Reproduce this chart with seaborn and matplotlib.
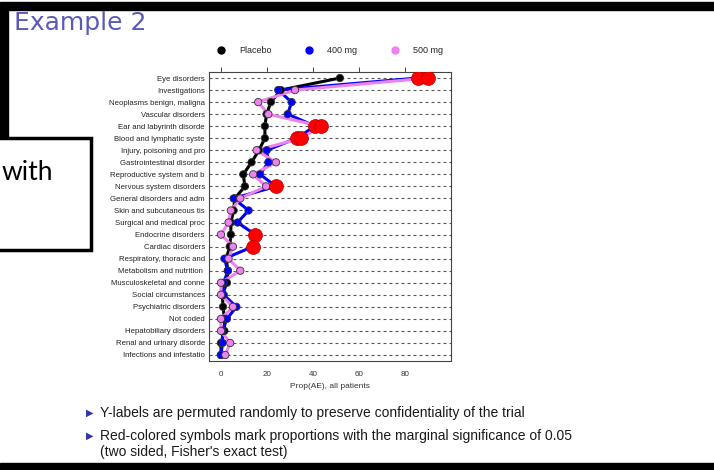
"""Adverse-event proportions by system organ class (slide recreation)."""

import matplotlib
matplotlib.use("Agg")
import matplotlib.pyplot as plt
import matplotlib.patches as mpatches
from matplotlib.lines import Line2D
import numpy as np
import pandas as pd
import seaborn as sns

categories = [
    "Eye disorders", "Investigations", "Neoplasms benign, maligna",
    "Vascular disorders", "Ear and labyrinth disorde", "Blood and lymphatic syste",
    "Injury, poisoning and pro", "Gastrointestinal disorder", "Reproductive system and b",
    "Nervous system disorders", "General disorders and adm", "Skin and subcutaneous tis",
    "Surgical and medical proc", "Endocrine disorders", "Cardiac disorders",
    "Respiratory, thoracic and", "Metabolism and nutrition ", "Musculoskeletal and conne",
    "Social circumstances", "Psychiatric disorders", "Not coded",
    "Hepatobiliary disorders", "Renal and urinary disorde", "Infections and infestatio",
]
placebo = [51.7, 26.0, 21.7, 19.8, 19.1, 19.1, 16.5, 13.3, 9.7, 10.4, 6.0, 5.5,
           4.3, 4.3, 3.8, 2.3, 3.0, 2.6, 0.6, 0.9, 1.5, 1.5, 0.0, 0.0]
dose_400 = [85.5, 24.9, 30.7, 29.0, 40.9, 32.9, 19.9, 20.6, 17.0, 23.9, 5.5, 12.0,
            7.2, 14.9, 13.9, 1.5, 3.0, 1.2, 1.2, 6.7, 2.6, 0.6, 0.7, 0.0]
dose_500 = [90.0, 32.2, 16.2, 20.6, 43.3, 35.0, 15.5, 23.9, 14.0, 19.6, 8.4, 4.3,
            3.3, 0.0, 5.2, 3.3, 8.4, 0.0, 0.0, 5.2, 0.0, 0.0, 4.0, 1.9]
# rows where the drug arm differs from placebo at p < 0.05
sig_400 = [0, 4, 5, 9, 13, 14]
sig_500 = [0, 4, 5]

groups = ["Placebo", "400 mg", "500 mg"]
palette = {"Placebo": "black", "400 mg": "#0000FF", "500 mg": "#EE82EE"}
x_ticks = [0, 20, 40, 60, 80]

W, H = 714, 470


def fx(px):
    return px / W


def fy(py):
    return 1 - py / H


rows = np.arange(len(categories))
frames = []
for name, vals, sig in ((groups[0], placebo, []), (groups[1], dose_400, sig_400),
                        (groups[2], dose_500, sig_500)):
    frames.append(pd.DataFrame({
        "category": categories, "row": rows, "group": name, "prop": vals,
        "sig": [r in sig for r in rows],
    }))
df = pd.concat(frames, ignore_index=True)

sns.set_theme(style="white")
plt.rcParams["font.family"] = ["Liberation Sans", "DejaVu Sans"]

fig = plt.figure(figsize=(W / 100, H / 100), dpi=100)
ax = fig.add_axes([fx(209), fy(361), fx(451) - fx(209), fy(72) - fy(361)])

# dashed row guides
for r in rows:
    ax.axhline(r, color="#555555", lw=0.8, ls=(0, (2.7, 2.7)), zorder=0)

sns.lineplot(data=df, x="prop", y="row", hue="group", palette=palette,
             sort=False, orient="y", estimator=None, lw=2.2, legend=False, ax=ax,
             zorder=2)
sns.scatterplot(data=df[~df["sig"]], x="prop", y="row", hue="group", palette=palette,
                s=28, edgecolor="#333333", linewidth=0.6, legend=False, ax=ax, zorder=3)
sns.scatterplot(data=df[df["sig"]], x="prop", y="row", color="#FF0000", s=100,
                edgecolor="#B00000", linewidth=0.5, legend=False, ax=ax, zorder=4)

ax.set_xlim(-5.2, 100)
ax.set_ylim(len(categories) - 0.5, -0.5)
ax.set_yticks(rows)
ax.set_yticklabels(categories, fontsize=5.6, color="#222222")
ax.tick_params(axis="y", length=0, pad=3)
ax.set_xticks(x_ticks)
ax.tick_params(axis="x", length=3.5, width=0.7, color="#444444", labelsize=5.8,
               labelcolor="#333333", pad=4, top=True, labeltop=False)
ax.set_xlabel("Prop(AE), all patients", fontsize=6, color="#333333", labelpad=3)
ax.set_ylabel("")
for sp in ax.spines.values():
    sp.set_color("#444444")
    sp.set_linewidth(0.8)

handles = [Line2D([], [], ls="none", marker="o", ms=5, color=palette[g],
                  markeredgecolor=palette[g]) for g in groups]
ax.legend(handles, groups, loc="lower center", bbox_to_anchor=(0.49, 1.045), ncol=3,
          frameon=False, fontsize=6.5, handletextpad=1.0, columnspacing=3.2,
          borderaxespad=0)

# slide decorations
fig.patches.append(mpatches.Rectangle((0, fy(10)), 1, fy(2) - fy(10),
                                      transform=fig.transFigure, color="black"))
fig.patches.append(mpatches.Rectangle((0, fy(137)), fx(8), fy(10) - fy(137),
                                      transform=fig.transFigure, color="black"))
fig.patches.append(mpatches.Rectangle((0, 0), 1, fy(463),
                                      transform=fig.transFigure, color="black"))
fig.patches.append(mpatches.Rectangle((fx(-5), fy(250)), fx(96), fy(138) - fy(250),
                                      transform=fig.transFigure, facecolor="white",
                                      edgecolor="black", lw=2.5))
fig.text(fx(2), fy(172), "with", fontsize=19, family="Lato", va="center", ha="left",
         color="black")

fig.text(fx(14), fy(23), "Example 2", fontsize=18, family="DejaVu Sans",
         color="#5a5ab8", va="center", ha="left")

bullets = [
    (413, "Y-labels are permuted randomly to preserve confidentiality of the trial"),
    (436, "Red-colored symbols mark proportions with the marginal significance of 0.05"),
]
for py, txt in bullets:
    fig.text(fx(86), fy(py), "\u25B6", fontsize=7, color="#3333B2", va="center",
             ha="left", family="DejaVu Sans")
    fig.text(fx(100), fy(py), txt, fontsize=10, color="#1a1a1a", va="center", ha="left")
fig.text(fx(100), fy(452), "(two sided, Fisher's exact test)", fontsize=10,
         color="#1a1a1a", va="center", ha="left")

fig.savefig("out.png", dpi=100)
